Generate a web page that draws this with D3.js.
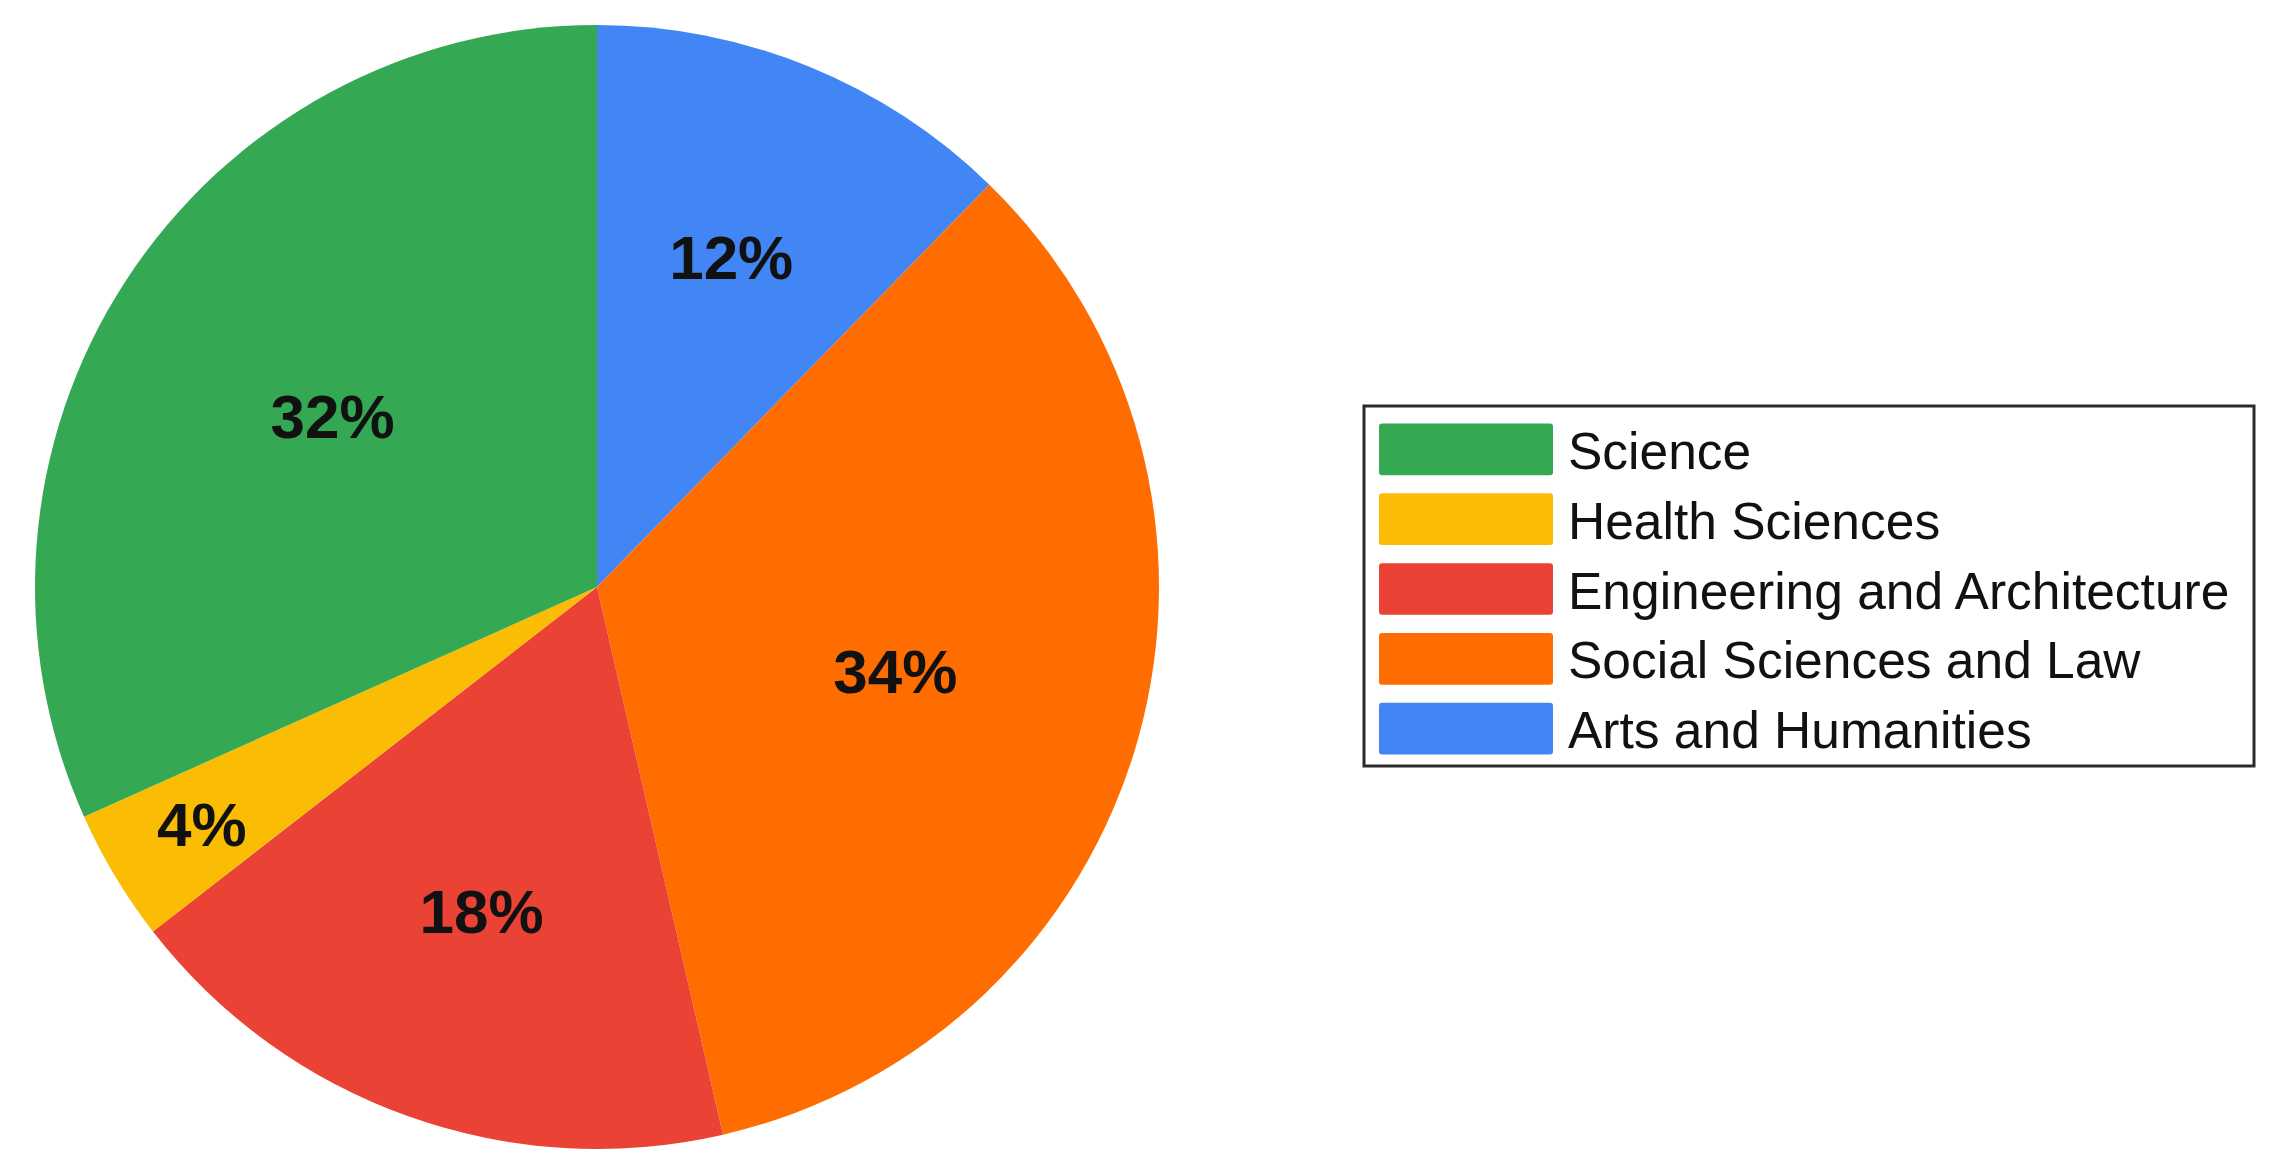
<!DOCTYPE html>
<html>
<head>
<meta charset="utf-8">
<script src="https://cdn.jsdelivr.net/npm/d3@7"></script>
<style>
  body { margin: 0; background: #fff; }
  text { font-family: "Liberation Sans", Arial, sans-serif; }
</style>
</head>
<body>
<svg id="chart"></svg>
<script>
// legend order (top to bottom)
var categories = ["Science", "Health Sciences", "Engineering and Architecture",
                  "Social Sciences and Law", "Arts and Humanities"];
var shares = [31.7, 3.8, 18.1, 34.1, 12.3];
var colors = ["#34a853", "#fbbc04", "#ea4335", "#ff6d01", "#4285f4"];

var width = 2276, height = 1172;

var svg = d3.select("#chart")
    .attr("width", width)
    .attr("height", height);

var data = categories.map(function(c, i) {
    return { name: c, value: shares[i] };
});

var color = d3.scaleOrdinal()
    .domain(categories)
    .range(colors);

var radius = 562;
var cx = 597, cy = 587;

// slices run clockwise from 12 o'clock in reverse legend order
var pie = d3.pie()
    .sort(null)
    .value(function(d) { return d.value; });

var arcs = pie(data.slice().reverse());

var arc = d3.arc()
    .innerRadius(0)
    .outerRadius(radius);

var g = svg.append("g")
    .attr("transform", "translate(" + cx + "," + cy + ")");

g.selectAll("path")
    .data(arcs)
    .enter().append("path")
    .attr("d", arc)
    .attr("fill", function(d) { return color(d.data.name); });

// small slices push the label outward, big ones pull it in a little
function labelPos(d) {
    var span = d.endAngle - d.startAngle;
    var f = span < 0.5 ? 0.82 : 0.68 - 0.06 * span;
    var r = radius * f;
    return d3.arc().innerRadius(r).outerRadius(r).centroid(d);
}

g.selectAll("text.pct")
    .data(arcs)
    .enter().append("text")
    .attr("class", "pct")
    .attr("transform", function(d) {
        var p = labelPos(d);
        return "translate(" + p[0] + "," + p[1] + ")";
    })
    .attr("text-anchor", "middle")
    .attr("dy", "0.36em")
    .style("font-size", "62px")
    .style("font-weight", "bold")
    .attr("fill", "#111")
    .text(function(d) { return Math.round(d.data.value) + "%"; });

// legend
var lx = 1364, ly = 406, lw = 890, lh = 360;
var legend = svg.append("g");

legend.append("rect")
    .attr("x", lx)
    .attr("y", ly)
    .attr("width", lw)
    .attr("height", lh)
    .attr("fill", "#fff")
    .attr("stroke", "#2a2a2a")
    .attr("stroke-width", 3);

var row = d3.scaleBand()
    .domain(categories)
    .range([ly + 14, ly + lh - 8])
    .paddingInner(0.26)
    .paddingOuter(0.05);

var item = legend.selectAll("g.item")
    .data(categories)
    .enter().append("g")
    .attr("class", "item");

item.append("rect")
    .attr("x", lx + 15)
    .attr("y", function(d) { return row(d); })
    .attr("width", 174)
    .attr("height", row.bandwidth())
    .attr("rx", 3)
    .style("fill", function(d) { return color(d); });

item.append("text")
    .attr("x", lx + 204)
    .attr("y", function(d) { return row(d) + row.bandwidth() / 2; })
    .attr("dy", "0.38em")
    .style("font-size", "51.5px")
    .attr("fill", "#111")
    .text(function(d) { return d; });
</script>
</body>
</html>
